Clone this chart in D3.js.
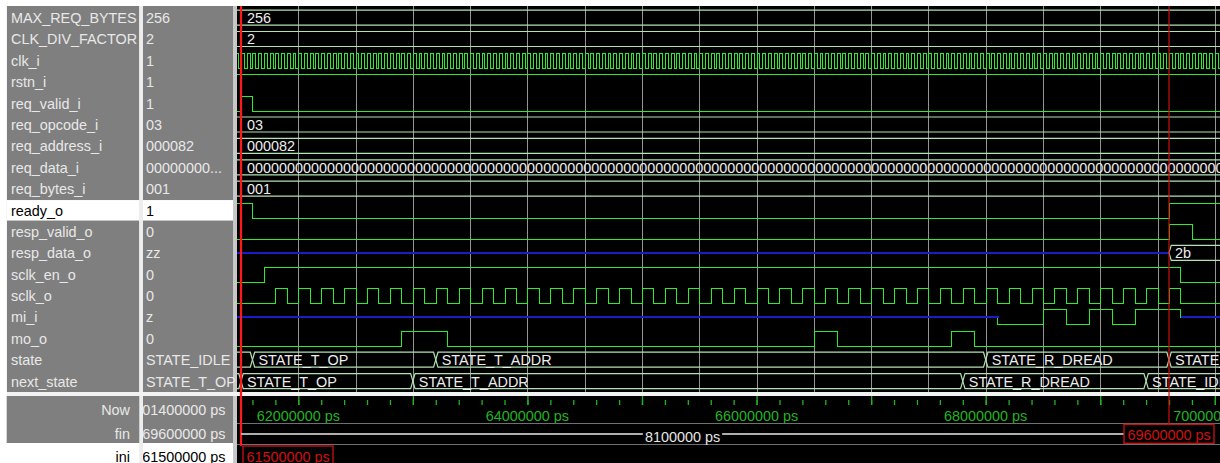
<!DOCTYPE html>
<html><head><meta charset="utf-8">
<script src="https://cdn.jsdelivr.net/npm/d3@7"></script>
<style>
html,body{margin:0;padding:0;background:#fff;overflow:hidden}
svg{display:block}
text{font-family:'Liberation Sans',Arial,sans-serif}
</style></head><body>
<svg id="chart" width="1220" height="463"></svg>
<script>
// ---------------- DATA (times in ns) ----------------
const signalNames = ["MAX_REQ_BYTES","CLK_DIV_FACTOR","clk_i","rstn_i","req_valid_i","req_opcode_i","req_address_i","req_data_i","req_bytes_i","ready_o","resp_valid_o","resp_data_o","sclk_en_o","sclk_o","mi_i","mo_o","state","next_state"];
const signalKinds = ["bus","bus","logic","logic","logic","bus","bus","bus","bus","logic","logic","bus","logic","logic","logic","logic","bus","bus"];
const cursorValues = ["256","2","1","1","1","03","000082","00000000...","001","1","0","zz","0","0","z","0","STATE_IDLE","STATE_T_OP"];
const selectedSignal = "ready_o";

const maxReqBytesWave = [[61000,"256"]];
const clkDivFactorWave = [[61000,"2"]];
const clkRiseNs = [61450,61500,61550,61600,61650,61700,61750,61800,61850,61900,61950,
62000,62050,62100,62150,62200,62250,62300,62350,62400,62450,62500,62550,62600,62650,62700,62750,62800,62850,62900,62950,
63000,63050,63100,63150,63200,63250,63300,63350,63400,63450,63500,63550,63600,63650,63700,63750,63800,63850,63900,63950,
64000,64050,64100,64150,64200,64250,64300,64350,64400,64450,64500,64550,64600,64650,64700,64750,64800,64850,64900,64950,
65000,65050,65100,65150,65200,65250,65300,65350,65400,65450,65500,65550,65600,65650,65700,65750,65800,65850,65900,65950,
66000,66050,66100,66150,66200,66250,66300,66350,66400,66450,66500,66550,66600,66650,66700,66750,66800,66850,66900,66950,
67000,67050,67100,67150,67200,67250,67300,67350,67400,67450,67500,67550,67600,67650,67700,67750,67800,67850,67900,67950,
68000,68050,68100,68150,68200,68250,68300,68350,68400,68450,68500,68550,68600,68650,68700,68750,68800,68850,68900,68950,
69000,69050,69100,69150,69200,69250,69300,69350,69400,69450,69500,69550,69600,69650,69700,69750,69800,69850,69900,69950,
70000];
const clkHighNs = 25;
const rstnWave = [[61000,"1"]];
const reqValidWave = [[61000,"0"],[61500,"1"],[61600,"0"]];
const reqOpcodeWave = [[61000,"03"]];
const reqAddressWave = [[61000,"000082"]];
const reqDataWave = [[61000,"00000000000000000000000000000000000000000000000000000000000000000000000000000000000000000000000000000000000000000000000000000000"]];
const reqBytesWave = [[61000,"001"]];
const readyWave = [[61000,"1"],[61600,"0"],[69600,"1"]];
const respValidWave = [[61000,"0"],[69600,"1"],[69800,"0"]];
const respDataWave = [[61000,"z"],[69600,"2b"]];
const sclkEnWave = [[61000,"0"],[61700,"1"],[69700,"0"]];
const sclkRiseNs = [61800,62000,62200,62400,62600,62800,63000,63200,63400,63600,63800,64000,64200,64400,64600,64800,65000,65200,65400,65600,65800,66000,66200,66400,66600,66800,67000,67200,67400,67600,67800,68000,68200,68400,68600,68800,69000,69200,69400,69600];
const sclkHighNs = 100;
const miWave = [[61000,"z"],[68100,"0"],[68500,"1"],[68700,"0"],[68900,"1"],[69100,"0"],[69300,"1"],[69700,"z"]];
const moWave = [[61000,"0"],[62900,"1"],[63300,"0"],[66500,"1"],[66700,"0"],[67700,"1"],[67900,"0"]];
const stateWave = [[61000,"STATE_IDLE"],[61600,"STATE_T_OP"],[63200,"STATE_T_ADDR"],[68000,"STATE_R_DREAD"],[69600,"STATE_IDLE"]];
const nextStateWave = [[61000,"STATE_IDLE"],[61500,"STATE_T_OP"],[63000,"STATE_T_ADDR"],[67800,"STATE_R_DREAD"],[69400,"STATE_IDLE"]];

const timeLabelTicksNs = [62000,64000,66000,68000,70000];
const timeLabels = ["62000000 ps","64000000 ps","66000000 ps","68000000 ps","70000000 ps"];
const markerIniNs = 61500, markerFinNs = 69600;
const markerIniLabel = "61500000 ps", markerFinLabel = "69600000 ps", spanLabel = "8100000 ps";
const bottomNames = ["Now","fin","ini"];
const bottomValues = ["101400000 ps","69600000 ps","61500000 ps"];
const viewStartNs = 61465, viewEndNs = 70045;

// ---------------- DERIVED ----------------
const clkWave = [[61000,"0"]].concat(clkRiseNs.flatMap(r => [[r,"1"],[r+clkHighNs,"0"]]));
const sclkWave = [[61000,"0"]].concat(sclkRiseNs.flatMap(r => [[r,"1"],[r+sclkHighNs,"0"]]));
const waves = [maxReqBytesWave,clkDivFactorWave,clkWave,rstnWave,reqValidWave,reqOpcodeWave,reqAddressWave,reqDataWave,reqBytesWave,readyWave,respValidWave,respDataWave,sclkEnWave,sclkWave,miWave,moWave,stateWave,nextStateWave];

// ---------------- STYLE / LAYOUT ----------------
const COL = {wave:"#2cec2c", bus:"#b2e2b2", busText:"#ededed", z:"#1a1ac8", grid:"#959595",
  panel:"#7f7f7f", panelText:"#e8e8e8", tick:"#22b422", markIni:"#ff1a1a", markFin:"#cc1010"};
const FONT = "14.4px";
const WAVE_L = 237, WAVE_R = 1220, TOP = 6, WAVE_B = 392;
const AMP = 7.5;

const svg = d3.select("#chart");
svg.append("rect").attr("width",1220).attr("height",463).attr("fill","#fff");

const x = d3.scaleLinear().domain([viewStartNs, viewEndNs]).range([WAVE_L, WAVE_R]);
const y = d3.scalePoint().domain(signalNames).range([17.6, 381.1]);

// panels
svg.append("rect").attr("x",6.7).attr("y",TOP).attr("width",132.6).attr("height",WAVE_B-TOP).attr("fill",COL.panel);
svg.append("rect").attr("x",143).attr("y",TOP).attr("width",90).attr("height",WAVE_B-TOP).attr("fill",COL.panel);
svg.append("rect").attr("x",139.3).attr("y",TOP).attr("width",3.7).attr("height",463).attr("fill","#ededed");
svg.append("rect").attr("x",233).attr("y",TOP).attr("width",4).attr("height",463).attr("fill","#c8c8c8");
const selY = y(selectedSignal);
svg.append("rect").attr("x",6.7).attr("y",selY-10).attr("width",132.6).attr("height",20.5).attr("fill","#fff");
svg.append("rect").attr("x",143).attr("y",selY-10).attr("width",90).attr("height",20.5).attr("fill","#fff");

svg.append("g").selectAll("text").data(signalNames).join("text")
  .attr("x",11).attr("y",d=>y(d)+5.5).attr("font-size",FONT)
  .attr("fill",d=>d===selectedSignal?"#000":COL.panelText).text(d=>d);
svg.append("g").selectAll("text").data(cursorValues).join("text")
  .attr("x",146).attr("y",(d,i)=>y(signalNames[i])+5.5).attr("font-size",FONT)
  .attr("fill",(d,i)=>signalNames[i]===selectedSignal?"#000":COL.panelText).text(d=>d);

// wave area background
svg.append("rect").attr("x",WAVE_L).attr("y",TOP).attr("width",WAVE_R-WAVE_L).attr("height",463-TOP).attr("fill","#000");
// white separator band
svg.append("rect").attr("x",0).attr("y",392).attr("width",1220).attr("height",4).attr("fill","#f2f2f2");
svg.append("rect").attr("x",0).attr("y",0).attr("width",6.7).attr("height",463).attr("fill","#fff");

const defs = svg.append("defs");
defs.append("clipPath").attr("id","waveClip").append("rect")
  .attr("x",WAVE_L).attr("y",TOP).attr("width",WAVE_R-WAVE_L).attr("height",WAVE_B-TOP);

const wg = svg.append("g").attr("clip-path","url(#waveClip)");

// grid
const gridTimes = d3.range(61500, viewEndNs, 500);
wg.append("g").selectAll("line").data(gridTimes).join("line")
  .attr("x1",d=>Math.round(x(d))+0.5).attr("x2",d=>Math.round(x(d))+0.5)
  .attr("y1",TOP).attr("y2",WAVE_B).attr("stroke",COL.grid).attr("stroke-width",1);

function segs(wave){
  return wave.map((d,i)=>({t0:d[0], t1:i+1<wave.length?wave[i+1][0]:viewEndNs+2000, v:d[1]}));
}
const px = v => Math.round(v)+0.5;

let clipId = 0;
signalNames.forEach((name,i)=>{
  const c = y(name);
  const ss = segs(waves[i]);
  const g = wg.append("g");
  if (signalKinds[i]==="logic"){
    const lvl = v => v==="1" ? c-AMP : v==="0" ? c+AMP : c;
    g.selectAll("line.h").data(ss).join("line").attr("class","h")
      .attr("x1",d=>px(x(d.t0))).attr("x2",d=>px(x(d.t1)))
      .attr("y1",d=>d.v==="z"?Math.round(c):px(lvl(d.v))).attr("y2",d=>d.v==="z"?Math.round(c):px(lvl(d.v)))
      .attr("stroke",d=>d.v==="z"?COL.z:COL.wave).attr("stroke-width",d=>d.v==="z"?2:1.2)
      .attr("shape-rendering","crispEdges")
      .attr("stroke-linecap","square");
    const trans = ss.slice(1).map((d,k)=>({t:d.t0, a:lvl(ss[k].v), b:lvl(d.v)}));
    g.selectAll("line.v").data(trans).join("line").attr("class","v")
      .attr("x1",d=>px(x(d.t))).attr("x2",d=>px(x(d.t)))
      .attr("y1",d=>px(d.a)).attr("y2",d=>px(d.b))
      .attr("shape-rendering","crispEdges")
      .attr("stroke",COL.wave).attr("stroke-width",1.2);
  } else {
    ss.forEach(s=>{
      const xs = x(s.t0), xe = x(s.t1);
      if (s.v==="z"){
        g.append("line").attr("x1",xs).attr("x2",xe).attr("y1",Math.round(c)).attr("y2",Math.round(c))
          .attr("stroke",COL.z).attr("stroke-width",2).attr("shape-rendering","crispEdges");
        return;
      }
      const b = 2.2;
      const pts = [[xs,c],[xs+b,c-AMP],[xe-b,c-AMP],[xe,c],[xe-b,c+AMP],[xs+b,c+AMP]];
      g.append("path").attr("d", d3.line()(pts)+"Z").attr("fill","none")
        .attr("stroke",COL.bus).attr("stroke-width",1.2);
      const visL = Math.max(xs, WAVE_L), visR = Math.min(xe, WAVE_R);
      if (visR - visL > 30){
        const id = "bc"+(clipId++);
        defs.append("clipPath").attr("id",id).append("rect")
          .attr("x",xs+b).attr("y",c-11).attr("width",Math.max(0,xe-xs-2*b)).attr("height",22);
        g.append("text").attr("clip-path",`url(#${id})`)
          .attr("x", xs < WAVE_L ? WAVE_L+10 : xs+6).attr("y",c+5.5)
          .attr("font-size",FONT).attr("fill",COL.busText).text(s.v);
      }
    });
  }
});

// ---------------- TIME RULER ----------------
const minorTicks = d3.range(61600, viewEndNs, 200);
const majorTicks = d3.range(62000, viewEndNs, 1000);
defs.append("clipPath").attr("id","rulerClip").append("rect")
  .attr("x",WAVE_L).attr("y",396).attr("width",WAVE_R-WAVE_L).attr("height",67);
const rg = svg.append("g").attr("clip-path","url(#rulerClip)");
const minorAxis = rg.append("g").attr("transform","translate(0,400)")
  .call(d3.axisBottom(x).tickValues(minorTicks).tickSize(5).tickFormat(""));
const majorAxis = rg.append("g").attr("transform","translate(0,396)")
  .call(d3.axisBottom(x).tickValues(majorTicks).tickSize(9).tickFormat(""));
[minorAxis, majorAxis].forEach(a=>{
  a.select(".domain").remove();
  a.selectAll(".tick line").attr("stroke",COL.tick).attr("stroke-width",1.3);
});
rg.append("g").selectAll("text").data(timeLabelTicksNs).join("text")
  .attr("x",d=>x(d)).attr("y",420.5).attr("text-anchor","middle")
  .attr("font-size",FONT).attr("fill",COL.tick).text((d,i)=>timeLabels[i]);

// separator lines
[423.5, 444.5].forEach(yy=>{
  rg.append("line").attr("x1",WAVE_L).attr("x2",WAVE_R).attr("y1",yy).attr("y2",yy)
    .attr("stroke","#707070").attr("stroke-width",1.2);
});

// markers
const xIni = x(markerIniNs), xFin = x(markerFinNs);
svg.append("line").attr("x1",xFin).attr("x2",xFin).attr("y1",TOP).attr("y2",424)
  .attr("stroke",COL.markFin).attr("stroke-width",1.2);
svg.append("line").attr("x1",xIni).attr("x2",xIni).attr("y1",TOP).attr("y2",446)
  .attr("stroke",COL.markIni).attr("stroke-width",2.2);

// fin box
const finW = 90;
const finL = xFin - finW/2;
// span line between markers
svg.append("line").attr("x1",xIni).attr("x2",finL).attr("y1",434).attr("y2",434)
  .attr("stroke","#e8e8e8").attr("stroke-width",1.5);
const spanMid = (xIni+finL)/2;
const spanT = svg.append("text").attr("x",spanMid).attr("y",442).attr("text-anchor","middle")
  .attr("font-size",FONT).attr("fill","#e6e6e6").text(spanLabel);
const sw = spanT.node().getComputedTextLength();
svg.insert("rect", () => spanT.node()).attr("x",spanMid-sw/2-2).attr("y",428).attr("width",sw+4).attr("height",12).attr("fill","#000");

svg.append("rect").attr("x",finL).attr("y",424.3).attr("width",finW).attr("height",19)
  .attr("fill","#000").attr("stroke","#d01010").attr("stroke-width",1.3);
svg.append("text").attr("x",xFin).attr("y",440).attr("text-anchor","middle")
  .attr("font-size",FONT).attr("fill","#d01010").text(markerFinLabel);

const iniW = 90;
const iniL = Math.max(xIni - iniW/2, 243);
svg.append("rect").attr("x",iniL).attr("y",446).attr("width",iniW).attr("height",24)
  .attr("fill","#000").attr("stroke","#d01010").attr("stroke-width",1.3);
svg.append("text").attr("x",iniL+iniW/2).attr("y",461.5).attr("text-anchor","middle")
  .attr("font-size",FONT).attr("fill","#d01010").text(markerIniLabel);

// bottom-left panels
svg.append("rect").attr("x",6.7).attr("y",396).attr("width",132.6).attr("height",47).attr("fill",COL.panel);
svg.append("rect").attr("x",143).attr("y",396).attr("width",90).attr("height",47).attr("fill",COL.panel);
defs.append("clipPath").attr("id","valClip").append("rect").attr("x",143).attr("y",396).attr("width",90).attr("height",67);
const bottomY = [415, 439, 461.5];
svg.append("g").selectAll("text").data(bottomNames).join("text")
  .attr("x",130).attr("y",(d,i)=>bottomY[i]).attr("text-anchor","end").attr("font-size",FONT)
  .attr("fill",(d,i)=>i<2?COL.panelText:"#000").text(d=>d);
svg.append("g").attr("clip-path","url(#valClip)").selectAll("text").data(bottomValues).join("text")
  .attr("x",225.5).attr("y",(d,i)=>bottomY[i]).attr("text-anchor","end").attr("font-size",FONT)
  .attr("fill",(d,i)=>i<2?COL.panelText:"#000").text(d=>d);
</script>
</body></html>
